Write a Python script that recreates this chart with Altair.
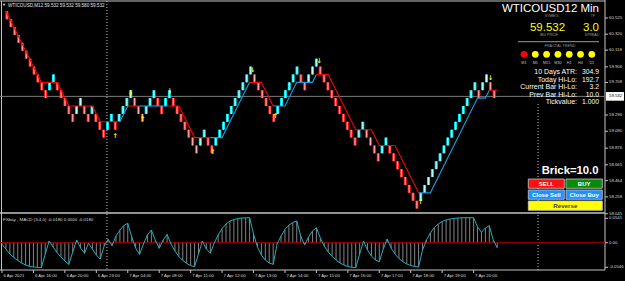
import altair as alt
import pandas as pd

# ---------------- chart values ----------------
BRICK = 0.10
bid_price = 59.532
spread_points = "3.0"
brick_setting = "Brick=10.0"
symbol_title = "WTICOUSD12 Min"
header_text = "WTICOUSD,M12  59.532 59.532 59.580 59.532"
macd_title = "FXbay - MACD (3,4,0) -0.0180 0.0000 -0.0180"

# renko bricks: low price of each brick and its direction (D = down/red, U = up/cyan)
brick_low = [
    60.51, 60.41, 60.31, 60.21, 60.11, 60.01, 59.91, 59.81, 59.71, 59.61, 59.51,
    59.61, 59.71,
    59.61, 59.51, 59.41, 59.31, 59.21,
    59.31, 59.41,
    59.31, 59.21,
    59.31,
    59.21, 59.11, 59.01,
    59.11, 59.21,
    59.11,
    59.21, 59.31, 59.41, 59.51,
    59.41, 59.31, 59.21,
    59.31, 59.41, 59.51,
    59.41, 59.31,
    59.41, 59.51,
    59.41, 59.31, 59.21, 59.11, 59.01, 58.91, 58.81,
    58.91, 59.01,
    58.91, 58.81,
    58.91, 59.01, 59.11, 59.21, 59.31, 59.41, 59.51, 59.61, 59.71, 59.81,
    59.71, 59.61, 59.51, 59.41, 59.31, 59.21,
    59.31, 59.41, 59.51, 59.61, 59.71, 59.81,
    59.71, 59.61,
    59.71, 59.81, 59.91,
    59.81, 59.71, 59.61, 59.51, 59.41, 59.31, 59.21, 59.11, 59.01, 58.91,
    59.01, 59.11,
    59.01, 58.91, 58.81, 58.71,
    58.81, 58.91,
    58.81, 58.71, 58.61, 58.51, 58.41, 58.31, 58.21, 58.11,
    58.21, 58.31, 58.41, 58.51, 58.61, 58.71, 58.81, 58.91, 59.01, 59.11,
    59.21, 59.31, 59.41, 59.51, 59.61,
    59.51,
    59.61, 59.71,
    59.61, 59.51,
]
brick_dir = list(
    "DDDDDDDDDDD" "UU" "DDDDD" "UU" "DD" "U" "DDD" "UU" "D" "UUUU" "DDD" "UUU"
    "DD" "UU" "DDDDDDD" "UU" "DD" "UUUUUUUUUU" "DDDDDD" "UUUUUU" "DD" "UUU"
    "DDDDDDDDDD" "UU" "DDDD" "UU" "DDDDDDDD" "UUUUUUUUUUUUUUU" "D" "UU" "DD"
)

# MACD value per brick
macd = [
    -0.0036, -0.0140, -0.0251, -0.0329, -0.0395, -0.0451, -0.0495, -0.0524, -0.0539, -0.0548,
    -0.0555, -0.0251, 0.0038, -0.0095, -0.0218, -0.0317, -0.0406, -0.0480, -0.0206, 0.0060,
    -0.0118, -0.0235, -0.0013, -0.0140, -0.0273, -0.0362, -0.0073, 0.0075, -0.0067, 0.0149,
    0.0282, 0.0382, 0.0431, 0.0127, -0.0118, -0.0258, -0.0029, 0.0171, 0.0282, 0.0060,
    -0.0124, 0.0060, 0.0186, -0.0029, -0.0184, -0.0306, -0.0395, -0.0462, -0.0506, -0.0533,
    -0.0251, 0.0038, -0.0140, -0.0235, -0.0007, 0.0171, 0.0315, 0.0415, 0.0482, 0.0515,
    0.0537, 0.0548, 0.0553, 0.0555, 0.0193, -0.0095, -0.0273, -0.0384, -0.0451, -0.0480,
    -0.0029, 0.0149, 0.0293, 0.0393, 0.0448, 0.0482, 0.0149, -0.0051, 0.0127, 0.0260,
    0.0333, 0.0104, -0.0073, -0.0206, -0.0306, -0.0384, -0.0451, -0.0495, -0.0528, -0.0546,
    -0.0555, -0.0251, 0.0038, -0.0162, -0.0295, -0.0384, -0.0422, -0.0140, 0.0082, -0.0118,
    -0.0251, -0.0351, -0.0422, -0.0473, -0.0506, -0.0528, -0.0539, -0.0162, 0.0060, 0.0215,
    0.0337, 0.0415, 0.0471, 0.0504, 0.0526, 0.0537, 0.0548, 0.0553, 0.0555, 0.0555,
    0.0555, 0.0349, 0.0231, 0.0326, 0.0377, 0.0060, -0.0111,
]

# trailing trend line (vertices)
trend_seg = [0, 0, 0, 0, 0, 0, 0, 1, 1, 2, 2, 3, 3, 4, 4, 4, 4, 5, 5, 5, 6, 6, 6,
             7, 7, 7, 7, 7, 8, 8, 8, 8, 8, 8, 8, 9, 9, 9, 9, 9, 10, 10]
trend_idx = [1, 10, 14, 17, 23, 25, 30, 30, 32, 32, 35, 35, 42, 42, 45, 49, 53, 53, 56, 63,
             63, 66, 69, 69, 72, 75, 79, 80, 80, 83, 90, 94, 96, 100, 106,
             106, 109, 121, 123, 124, 124, 126]
trend_price = [60.61, 59.71, 59.71, 59.41, 59.41, 59.21, 59.21, 59.21, 59.41, 59.41, 59.41,
               59.41, 59.41, 59.41, 59.41, 59.01, 59.01, 59.01, 59.01, 59.71,
               59.71, 59.71, 59.41, 59.41, 59.41, 59.71, 59.71, 59.81,
               59.81, 59.81, 59.11, 59.11, 58.91, 58.91, 58.31,
               58.31, 58.31, 59.51, 59.51, 59.61, 59.61, 59.61]
seg_trend = ["down", "up", "down", "up", "down", "up", "down", "up", "down", "up", "down"]

# fractal arrows
frac_idx = [28.8, 32.7, 35.8, 42.7, 53.6, 63.7, 69.6, 80.7, 106.5, 124.3]
frac_price = [59.03, 59.58, 59.25, 59.60, 58.83, 59.86, 59.28, 59.98, 58.19, 59.77]
frac_dir = ["up", "down", "up", "down", "up", "down", "up", "down", "up", "down"]

price_ticks = [60.525, 60.320, 60.118, 59.906, 59.708, 59.296, 59.090, 58.876,
               58.665, 58.464, 58.258, 58.045]
macd_ticks = [0.0541, 0.0, -0.0546]
macd_tick_labels = ["0.0541", "0.00", "-0.0546"]
time_tick_idx = [0, 8, 16, 24, 32, 40, 48, 56, 64, 72, 80, 88, 96, 104, 112, 120]
time_tick_labels = ["6 Apr 2021", "6 Apr 16:00", "6 Apr 20:00", "6 Apr 23:00",
                    "7 Apr 04:00", "7 Apr 08:00", "7 Apr 11:00", "7 Apr 12:00",
                    "7 Apr 13:00", "7 Apr 14:00", "7 Apr 15:00", "7 Apr 16:00",
                    "7 Apr 17:00", "7 Apr 18:00", "7 Apr 19:00", "7 Apr 20:00"]
period_separators = [26.7, 136.4]

timeframes = ["M1", "M5", "M15", "M30", "H1", "H4", "D1"]
tf_trend = ["down", "up", "up", "up", "up", "up", "up"]
stats_labels = ["10 Days ATR:", "Today Hi-Lo:", "Current Bar Hi-Lo:", "Prev Bar Hi-Lo:", "Tickvalue:"]
stats_values = ["304.9", "192.7", "3.2", "10.0", "1.000"]

# ---------------- layout / styles ----------------
W, H = 625, 281
FONT = "Liberation Sans"
XS = alt.Scale(domain=[-0.509, 158.52], nice=False, zero=False)
YM = alt.Scale(domain=[57.193, 60.753], nice=False, zero=False)
YD = alt.Scale(domain=[-0.0850, 0.5388], nice=False, zero=False)
RED, CYAN, BLUE_LINE = "#ff1e1e", "#00e8f2", "#1e9be0"
GRID = "#c4c4c4"
LBL = "#dadada"


def one():
    return pd.DataFrame({"k": [0]})


def px_rule(x1, x2, y1, y2, color, width=1.0, dash=None):
    kw = dict(color=color, strokeWidth=width)
    if dash:
        kw["strokeDash"] = dash
    return alt.Chart(one()).mark_rule(**kw).encode(
        x=alt.value(x1), x2=alt.value(x2), y=alt.value(y1), y2=alt.value(y2))


def px_text(t, x, y, size, color="#ffffff", align="center", bold=False):
    kw = dict(fontSize=size, color=color, align=align, baseline="middle", font=FONT)
    if bold:
        kw["fontWeight"] = "bold"
    return alt.Chart(pd.DataFrame({"t": [t]})).mark_text(**kw).encode(
        x=alt.value(x), y=alt.value(y), text="t:N")


def px_box(x1, x2, y1, y2, fill, stroke=None):
    kw = dict(fill=fill)
    if stroke:
        kw.update(stroke=stroke, strokeWidth=0.8)
    return alt.Chart(one()).mark_rect(**kw).encode(
        x=alt.value(x1), x2=alt.value(x2), y=alt.value(y1), y2=alt.value(y2))


layers = []

# frame
layers += [
    px_rule(0, 605, 1, 1, GRID),
    px_rule(1.5, 1.5, 1, 270, GRID),
    px_rule(605, 605, 0, 270, GRID),
    px_rule(0, 605, 213, 213, GRID, 1.3),
    px_rule(0, 605, 270, 270, GRID),
]

# period separators
sep = pd.DataFrame({"idx": period_separators})
layers.append(alt.Chart(sep.iloc[[0]]).mark_rule(color="#c8c8c8", strokeDash=[1, 2], strokeWidth=1).encode(
    x=alt.X("idx:Q", scale=XS, axis=None), y=alt.value(1), y2=alt.value(270)))
layers.append(alt.Chart(sep.iloc[[1]]).mark_rule(color="#c8c8c8", strokeDash=[1, 2], strokeWidth=1).encode(
    x=alt.X("idx:Q", scale=XS, axis=None), y=alt.value(104), y2=alt.value(270)))

# bid line
bid_df = pd.DataFrame({"p": [bid_price]})
layers.append(alt.Chart(bid_df).mark_rule(color="#7c7c7c", strokeWidth=1).encode(
    y=alt.Y("p:Q", scale=YM, axis=None), x=alt.value(0), x2=alt.value(605)))

# MACD pane
md = pd.DataFrame({"idx": list(range(len(macd))), "v": macd, "z": [0.0] * len(macd)})
layers.append(alt.Chart(md).mark_rule(color="#a6a6a6", strokeWidth=0.8).encode(
    x=alt.X("idx:Q", scale=XS, axis=None), y=alt.Y("v:Q", scale=YD, axis=None), y2="z:Q"))
layers.append(alt.Chart(pd.DataFrame({"z": [0.0]})).mark_rule(color="#8b0000", strokeWidth=1.3).encode(
    y=alt.Y("z:Q", scale=YD, axis=None), x=alt.value(0), x2=alt.value(605)))
layers.append(alt.Chart(md).mark_line(color="#22aebd", strokeWidth=1).encode(
    x=alt.X("idx:Q", scale=XS, axis=None), y=alt.Y("v:Q", scale=YD, axis=None)))

# renko bricks
bricks = pd.DataFrame({"idx": list(range(len(brick_low))), "low": brick_low, "dir": brick_dir})
bricks["high"] = bricks["low"] + BRICK
bbase = alt.Chart(bricks).encode(
    x=alt.X("idx:Q", scale=XS, axis=None),
    y=alt.Y("low:Q", scale=YM, axis=None), y2="high:Q")
layers.append(bbase.mark_bar(size=3).encode(
    color=alt.condition(alt.datum.dir == "D", alt.value(RED), alt.value(CYAN))))
layers.append(bbase.mark_bar(size=1).encode(
    color=alt.condition(alt.datum.dir == "D", alt.value("#ffb4b4"), alt.value("#c8ffff"))))

# trend line
trend = pd.DataFrame({"seg": trend_seg, "idx": trend_idx, "price": trend_price})
trend["trend"] = [seg_trend[s] for s in trend_seg]
trend["ord"] = list(range(len(trend)))
layers.append(alt.Chart(trend).mark_line(strokeWidth=1.1).encode(
    x=alt.X("idx:Q", scale=XS, axis=None),
    y=alt.Y("price:Q", scale=YM, axis=None),
    detail="seg:N", order="ord:Q",
    color=alt.Color("trend:N", scale=alt.Scale(domain=["down", "up"], range=["#ff0000", BLUE_LINE]),
                    legend=None)))

# fractal arrows
fr = pd.DataFrame({"idx": frac_idx, "p": frac_price, "dir": frac_dir})
fr["sym"] = ["↑" if d == "up" else "↓" for d in frac_dir]
layers.append(alt.Chart(fr).mark_text(color="#ffff00", fontSize=6.5, fontWeight="bold",
                                      font="DejaVu Sans", baseline="middle").encode(
    x=alt.X("idx:Q", scale=XS, axis=None), y=alt.Y("p:Q", scale=YM, axis=None), text="sym:N"))

# header texts
layers.append(px_text("▼", 4, 5, 4, "#e0e0e0"))
layers.append(px_text(header_text, 8, 5.5, 4.6, "#e0e0e0", align="left"))
layers.append(px_text(macd_title, 3, 219.5, 4.4, "#d8d8d8", align="left"))

# info panel
layers += [
    px_text(symbol_title, 599, 9, 11.5, "#ffffff", align="right"),
    px_text("SYMBOL", 552, 15.7, 3.5, "#9a9a9a"),
    px_text("TF", 593, 15.7, 3.5, "#9a9a9a"),
    px_text(f"{bid_price:.3f}", 547.5, 27.5, 11.5, "#ffff00"),
    px_text(spread_points, 591, 27.5, 11.5, "#ffff00"),
    px_text("BID PRICE", 549, 34.5, 3.5, "#9a9a9a"),
    px_text("SPREAD", 592, 34.5, 3.5, "#9a9a9a"),
    px_rule(518, 599, 41.7, 41.7, "#9a9a9a"),
    px_text("FRACTAL TREND", 560, 46, 3.8, "#9a9a9a"),
]
circ = pd.DataFrame({"tf": timeframes, "state": tf_trend})
circ["px"] = [524 + 11.3 * j for j in range(len(timeframes))]
layers.append(alt.Chart(circ).mark_circle(size=46, opacity=1).encode(
    x=alt.X("px:Q", scale=None, axis=None), y=alt.value(54.3),
    color=alt.condition(alt.datum.state == "down", alt.value("#ff0000"), alt.value("#ffff00"))))
layers.append(alt.Chart(circ).mark_text(fontSize=3.8, color="#c0c0c0", font=FONT).encode(
    x=alt.X("px:Q", scale=None, axis=None), y=alt.value(62.7), text="tf:N"))
for j, (lab, val) in enumerate(zip(stats_labels, stats_values)):
    yy = 72.3 + 7.45 * j
    layers.append(px_text(lab, 577, yy, 7, "#ffffff", align="right"))
    layers.append(px_text(val, 599, yy, 6.8, "#ffffff", align="right"))

layers.append(px_text(brick_setting, 598.5, 171, 11.3, "#ffffff", align="right", bold=True))

# buttons
layers += [
    px_box(528.3, 564.3, 179, 188.3, "#ff1010", "#c8c8c8"),
    px_box(566, 602.3, 179, 188.3, "#0a8a0a", "#c8c8c8"),
    px_box(528.3, 564.3, 190, 199.3, "#1e90ff", "#c8c8c8"),
    px_box(566, 602.3, 190, 199.3, "#1e90ff", "#c8c8c8"),
    px_box(528.3, 602.3, 201, 210.3, "#ffff00", "#c8c8c8"),
    px_text("SELL", 546.3, 183.8, 6, "#ffffff", bold=True),
    px_text("BUY", 584.2, 183.8, 6, "#ffffff", bold=True),
    px_text("Close Sell", 546.3, 194.8, 6, "#ffffff", bold=True),
    px_text("Close Buy", 584.2, 194.8, 6, "#ffffff", bold=True),
    px_text("Reverse", 565.3, 205.8, 6.2, "#404040", bold=True),
]

# price axis
pt = pd.DataFrame({"p": price_ticks, "lab": [f"{v:.3f}" for v in price_ticks]})
layers.append(alt.Chart(pt).mark_rule(color=GRID).encode(
    y=alt.Y("p:Q", scale=YM, axis=None), x=alt.value(605), x2=alt.value(608)))
layers.append(alt.Chart(pt).mark_text(fontSize=4.3, color=LBL, align="left", font=FONT).encode(
    y=alt.Y("p:Q", scale=YM, axis=None), x=alt.value(609), text="lab:N"))
bid_box = pd.DataFrame({"top": [bid_price + 0.055], "bot": [bid_price - 0.055],
                        "p": [bid_price], "lab": [f"{bid_price:.3f}"]})
layers.append(alt.Chart(bid_box).mark_rect(fill="#ffffff").encode(
    y=alt.Y("top:Q", scale=YM, axis=None), y2="bot:Q", x=alt.value(606), x2=alt.value(624)))
layers.append(alt.Chart(bid_box).mark_text(fontSize=4.3, color="#000000", align="left", font=FONT).encode(
    y=alt.Y("p:Q", scale=YM, axis=None), x=alt.value(609), text="lab:N"))

# MACD axis
mt = pd.DataFrame({"v": macd_ticks, "lab": macd_tick_labels})
layers.append(alt.Chart(mt).mark_rule(color=GRID).encode(
    y=alt.Y("v:Q", scale=YD, axis=None), x=alt.value(605), x2=alt.value(608)))
layers.append(alt.Chart(mt).mark_text(fontSize=4.3, color=LBL, align="left", font=FONT).encode(
    y=alt.Y("v:Q", scale=YD, axis=None), x=alt.value(609), text="lab:N"))

# time axis
tt = pd.DataFrame({"idx": time_tick_idx, "lab": time_tick_labels})
layers.append(alt.Chart(tt).mark_rule(color=GRID).encode(
    x=alt.X("idx:Q", scale=XS, axis=None), y=alt.value(270), y2=alt.value(273)))
layers.append(alt.Chart(tt).mark_text(fontSize=4.3, color=LBL, align="left", dx=1.5, font=FONT).encode(
    x=alt.X("idx:Q", scale=XS, axis=None), y=alt.value(275.8), text="lab:N"))

chart = alt.layer(*layers).resolve_scale(
    x="independent", y="independent", color="independent"
).properties(
    width=W, height=H, padding=0,
    autosize=alt.AutoSizeParams(type="none"),
    background="#000000",
).configure_view(strokeWidth=0)

chart.save("out.html", embed_options={"renderer": "svg", "actions": False})
